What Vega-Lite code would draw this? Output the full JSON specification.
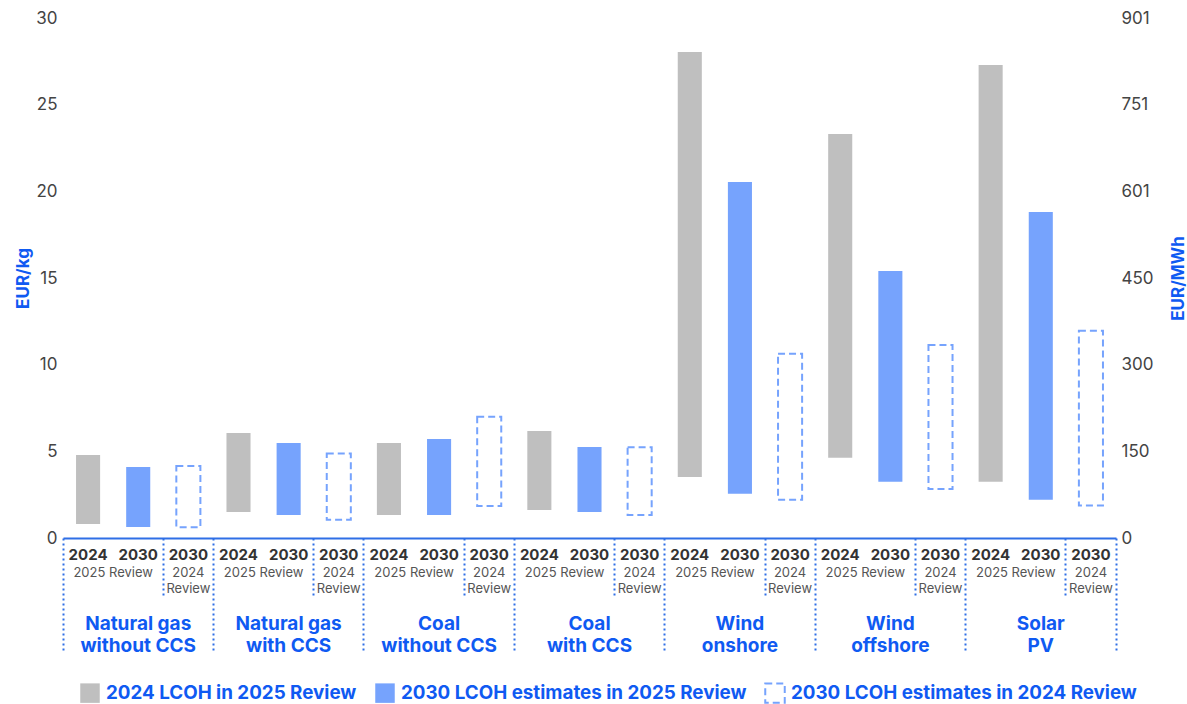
{
  "$schema": "https://vega.github.io/schema/vega-lite/v6.json",
  "width": 1053,
  "height": 520,
  "autosize": {"type": "none"},
  "padding": {"left": 63, "top": 18, "right": 71, "bottom": 166},
  "config": {
    "font": "Inter",
    "view": {"stroke": null},
    "axis": {"grid": false, "labelAngle": 0},
    "scale": {"bandPaddingInner": 0, "bandPaddingOuter": 0}
  },
  "data": {
    "values": [
      {"group": "Natural gas without CCS", "year": "2024", "review": "2025 Review", "series": "2024 LCOH in 2025 Review", "slot": "Natural gas without CCS | 2024 | 2025 Review", "low": 0.81, "high": 4.79},
      {"group": "Natural gas without CCS", "year": "2030", "review": "2025 Review", "series": "2030 LCOH estimates in 2025 Review", "slot": "Natural gas without CCS | 2030 | 2025 Review", "low": 0.63, "high": 4.10},
      {"group": "Natural gas without CCS", "year": "2030", "review": "2024 Review", "series": "2030 LCOH estimates in 2024 Review", "slot": "Natural gas without CCS | 2030 | 2024 Review", "low": 0.62, "high": 4.15},
      {"group": "Natural gas with CCS", "year": "2024", "review": "2025 Review", "series": "2024 LCOH in 2025 Review", "slot": "Natural gas with CCS | 2024 | 2025 Review", "low": 1.50, "high": 6.06},
      {"group": "Natural gas with CCS", "year": "2030", "review": "2025 Review", "series": "2030 LCOH estimates in 2025 Review", "slot": "Natural gas with CCS | 2030 | 2025 Review", "low": 1.33, "high": 5.48},
      {"group": "Natural gas with CCS", "year": "2030", "review": "2024 Review", "series": "2030 LCOH estimates in 2024 Review", "slot": "Natural gas with CCS | 2030 | 2024 Review", "low": 1.06, "high": 4.88},
      {"group": "Coal without CCS", "year": "2024", "review": "2025 Review", "series": "2024 LCOH in 2025 Review", "slot": "Coal without CCS | 2024 | 2025 Review", "low": 1.33, "high": 5.48},
      {"group": "Coal without CCS", "year": "2030", "review": "2025 Review", "series": "2030 LCOH estimates in 2025 Review", "slot": "Coal without CCS | 2030 | 2025 Review", "low": 1.33, "high": 5.71},
      {"group": "Coal without CCS", "year": "2030", "review": "2024 Review", "series": "2030 LCOH estimates in 2024 Review", "slot": "Coal without CCS | 2030 | 2024 Review", "low": 1.85, "high": 7.00},
      {"group": "Coal with CCS", "year": "2024", "review": "2025 Review", "series": "2024 LCOH in 2025 Review", "slot": "Coal with CCS | 2024 | 2025 Review", "low": 1.62, "high": 6.17},
      {"group": "Coal with CCS", "year": "2030", "review": "2025 Review", "series": "2030 LCOH estimates in 2025 Review", "slot": "Coal with CCS | 2030 | 2025 Review", "low": 1.50, "high": 5.25},
      {"group": "Coal with CCS", "year": "2030", "review": "2024 Review", "series": "2030 LCOH estimates in 2024 Review", "slot": "Coal with CCS | 2030 | 2024 Review", "low": 1.33, "high": 5.23},
      {"group": "Wind onshore", "year": "2024", "review": "2025 Review", "series": "2024 LCOH in 2025 Review", "slot": "Wind onshore | 2024 | 2025 Review", "low": 3.52, "high": 28.04},
      {"group": "Wind onshore", "year": "2030", "review": "2025 Review", "series": "2030 LCOH estimates in 2025 Review", "slot": "Wind onshore | 2030 | 2025 Review", "low": 2.56, "high": 20.54},
      {"group": "Wind onshore", "year": "2030", "review": "2024 Review", "series": "2030 LCOH estimates in 2024 Review", "slot": "Wind onshore | 2030 | 2024 Review", "low": 2.21, "high": 10.63},
      {"group": "Wind offshore", "year": "2024", "review": "2025 Review", "series": "2024 LCOH in 2025 Review", "slot": "Wind offshore | 2024 | 2025 Review", "low": 4.63, "high": 23.31},
      {"group": "Wind offshore", "year": "2030", "review": "2025 Review", "series": "2030 LCOH estimates in 2025 Review", "slot": "Wind offshore | 2030 | 2025 Review", "low": 3.25, "high": 15.40},
      {"group": "Wind offshore", "year": "2030", "review": "2024 Review", "series": "2030 LCOH estimates in 2024 Review", "slot": "Wind offshore | 2030 | 2024 Review", "low": 2.83, "high": 11.13},
      {"group": "Solar PV", "year": "2024", "review": "2025 Review", "series": "2024 LCOH in 2025 Review", "slot": "Solar PV | 2024 | 2025 Review", "low": 3.25, "high": 27.29},
      {"group": "Solar PV", "year": "2030", "review": "2025 Review", "series": "2030 LCOH estimates in 2025 Review", "slot": "Solar PV | 2030 | 2025 Review", "low": 2.21, "high": 18.81},
      {"group": "Solar PV", "year": "2030", "review": "2024 Review", "series": "2030 LCOH estimates in 2024 Review", "slot": "Solar PV | 2030 | 2024 Review", "low": 1.87, "high": 11.96}
    ]
  },
  "layer": [
    {
      "mark": {"type": "bar", "strokeWidth": 2, "width": {"band": 0.48}},
      "encoding": {
        "x": {
          "field": "slot", "type": "nominal", "sort": null,
          "scale": {"paddingInner": 0, "paddingOuter": 0},
          "axis": {
            "orient": "bottom", "title": null, "ticks": false,
            "labelExpr": "split(datum.label, ' | ')[1]",
            "labelFontSize": 15, "labelFontWeight": "bold", "labelColor": "#333333",
            "labelPadding": 9, "labelOverlap": false, "labelBound": false,
            "domainColor": "#2f6fe6", "domainWidth": 2
          }
        },
        "y": {
          "field": "high", "type": "quantitative",
          "scale": {"domain": [0, 30], "nice": false},
          "axis": {
            "orient": "left", "title": "EUR/kg", "values": [0, 5, 10, 15, 20, 25, 30],
            "domain": false, "ticks": false,
            "labelFontSize": 17, "labelColor": "#444444", "labelPadding": 6,
            "titleColor": "#0f5af2", "titleFontSize": 17, "titleFontWeight": "bold", "titlePadding": 3
          }
        },
        "y2": {"field": "low"},
        "fill": {
          "field": "series", "type": "nominal",
          "scale": {
            "domain": ["2024 LCOH in 2025 Review", "2030 LCOH estimates in 2025 Review", "2030 LCOH estimates in 2024 Review"],
            "range": ["#bfbfbf", "#76a3fd", "transparent"]
          },
          "legend": {
            "title": null, "orient": "none", "legendX": 16, "legendY": 664, "direction": "horizontal",
            "symbolType": "square", "symbolSize": 380, "symbolStrokeWidth": 2,
            "labelFontSize": 18.8, "labelFontWeight": "bold", "labelColor": "#0f5af2", "labelLimit": 500,
            "labelOffset": 5, "columnPadding": 14,
            "symbols": {"update": {"strokeDash": {"value": [10, 10]}, "strokeDashOffset": {"value": 5}}}
          }
        },
        "stroke": {
          "field": "series", "type": "nominal",
          "scale": {
            "domain": ["2024 LCOH in 2025 Review", "2030 LCOH estimates in 2025 Review", "2030 LCOH estimates in 2024 Review"],
            "range": ["transparent", "transparent", "#76a3fd"]
          },
          "legend": {
            "title": null, "orient": "none", "legendX": 16, "legendY": 664, "direction": "horizontal",
            "symbolType": "square", "symbolSize": 380, "symbolStrokeWidth": 2,
            "labelFontSize": 18.8, "labelFontWeight": "bold", "labelColor": "#0f5af2", "labelLimit": 500,
            "labelOffset": 5, "columnPadding": 14,
            "symbols": {"update": {"strokeDash": {"value": [10, 10]}, "strokeDashOffset": {"value": 5}}}
          }
        },
        "strokeDash": {
          "field": "series", "type": "nominal",
          "scale": {
            "domain": ["2024 LCOH in 2025 Review", "2030 LCOH estimates in 2025 Review", "2030 LCOH estimates in 2024 Review"],
            "range": [[1, 0], [1, 0], [7, 4]]
          },
          "legend": {
            "title": null, "orient": "none", "legendX": 16, "legendY": 664, "direction": "horizontal",
            "symbolType": "square", "symbolSize": 380, "symbolStrokeWidth": 2,
            "labelFontSize": 18.8, "labelFontWeight": "bold", "labelColor": "#0f5af2", "labelLimit": 500,
            "labelOffset": 5, "columnPadding": 14,
            "symbols": {"update": {"strokeDash": {"value": [10, 10]}, "strokeDashOffset": {"value": 5}}}
          }
        }
      }
    },
    {
      "mark": {"type": "point", "opacity": 0},
      "encoding": {
        "x": {
          "field": "slot", "type": "nominal", "sort": null,
          "axis": {
            "orient": "bottom", "title": null, "domain": false, "ticks": false,
            "values": ["Natural gas without CCS | 2030 | 2025 Review", "Natural gas with CCS | 2030 | 2025 Review", "Coal without CCS | 2030 | 2025 Review", "Coal with CCS | 2030 | 2025 Review", "Wind onshore | 2030 | 2025 Review", "Wind offshore | 2030 | 2025 Review", "Solar PV | 2030 | 2025 Review"],
            "labelExpr": "split(datum.label, ' | ')[2]",
            "labelOffset": -25, "labelFontSize": 13, "labelColor": "#555555",
            "labelPadding": 28, "labelOverlap": false, "labelBound": false
          }
        },
        "y": {
          "datum": 0, "type": "quantitative",
          "scale": {"domain": [0, 900.9], "nice": false},
          "axis": {
            "orient": "right", "title": "EUR/MWh",
            "values": [0, 150.15, 300.3, 450.45, 600.6, 750.75, 900.9], "format": ".0f",
            "domain": false, "ticks": false,
            "labelFontSize": 17, "labelColor": "#444444", "labelPadding": 5,
            "titleAngle": 270, "titleBaseline": "top", "titleColor": "#0f5af2", "titleFontSize": 17, "titleFontWeight": "bold", "titlePadding": 17
          }
        }
      }
    },
    {
      "mark": {"type": "point", "opacity": 0},
      "encoding": {
        "x": {
          "field": "slot", "type": "nominal", "sort": null,
          "axis": {
            "orient": "bottom", "title": null, "domain": false, "ticks": false,
            "values": ["Natural gas without CCS | 2030 | 2024 Review", "Natural gas with CCS | 2030 | 2024 Review", "Coal without CCS | 2030 | 2024 Review", "Coal with CCS | 2030 | 2024 Review", "Wind onshore | 2030 | 2024 Review", "Wind offshore | 2030 | 2024 Review", "Solar PV | 2030 | 2024 Review"],
            "labelExpr": "split(split(datum.label, ' | ')[2], ' ')",
            "labelFontSize": 13, "labelColor": "#555555", "labelLineHeight": 16,
            "labelPadding": 28, "labelOverlap": false, "labelBound": false
          }
        }
      }
    },
    {
      "mark": {"type": "point", "opacity": 0},
      "encoding": {
        "x": {
          "field": "slot", "type": "nominal", "sort": null,
          "axis": {
            "orient": "bottom", "title": null, "domain": false, "ticks": false,
            "values": ["Natural gas without CCS | 2030 | 2025 Review", "Natural gas with CCS | 2030 | 2025 Review", "Coal without CCS | 2030 | 2025 Review", "Coal with CCS | 2030 | 2025 Review", "Wind onshore | 2030 | 2025 Review", "Wind offshore | 2030 | 2025 Review", "Solar PV | 2030 | 2025 Review"],
            "labelExpr": "indexof(datum.label, ' with') > 0 ? [substring(datum.label, 0, indexof(datum.label, ' with')), substring(datum.label, indexof(datum.label, ' with') + 1, indexof(datum.label, ' | '))] : [substring(datum.label, 0, indexof(datum.label, ' ')), substring(datum.label, indexof(datum.label, ' ') + 1, indexof(datum.label, ' | '))]",
            "labelFontSize": 19, "labelFontWeight": "bold", "labelColor": "#0f5af2", "labelLineHeight": 22,
            "labelPadding": 76, "labelOverlap": false, "labelBound": false, "labelLimit": 300
          }
        }
      }
    },
    {
      "mark": {"type": "point", "opacity": 0},
      "encoding": {
        "x": {
          "field": "slot", "type": "nominal", "sort": null,
          "axis": {
            "orient": "bottom", "title": null, "domain": false, "labels": false,
            "values": ["Natural gas without CCS | 2030 | 2024 Review", "Natural gas with CCS | 2030 | 2024 Review", "Coal without CCS | 2030 | 2024 Review", "Coal with CCS | 2030 | 2024 Review", "Wind onshore | 2030 | 2024 Review", "Wind offshore | 2030 | 2024 Review", "Solar PV | 2030 | 2024 Review"],
            "bandPosition": 0, "ticks": true, "tickSize": 58, "tickDash": [2, 3], "tickWidth": 2, "tickColor": "#2f6fe6"
          }
        }
      }
    },
    {
      "mark": {"type": "point", "opacity": 0},
      "encoding": {
        "x": {
          "field": "slot", "type": "nominal", "sort": null,
          "axis": {
            "orient": "bottom", "title": null, "domain": false, "labels": false,
            "values": ["Natural gas without CCS | 2024 | 2025 Review", "Natural gas with CCS | 2024 | 2025 Review", "Coal without CCS | 2024 | 2025 Review", "Coal with CCS | 2024 | 2025 Review", "Wind onshore | 2024 | 2025 Review", "Wind offshore | 2024 | 2025 Review", "Solar PV | 2024 | 2025 Review"],
            "bandPosition": 0, "ticks": true, "tickSize": 114, "tickDash": [2, 3], "tickWidth": 2, "tickColor": "#2f6fe6"
          }
        }
      }
    },
    {
      "mark": {"type": "point", "opacity": 0},
      "encoding": {
        "x": {
          "field": "slot", "type": "nominal", "sort": null,
          "axis": {
            "orient": "bottom", "title": null, "domain": false, "labels": false,
            "values": ["Solar PV | 2030 | 2024 Review"],
            "bandPosition": 1, "ticks": true, "tickSize": 114, "tickDash": [2, 3], "tickWidth": 2, "tickColor": "#2f6fe6"
          }
        }
      }
    }
  ],
  "resolve": {"scale": {"y": "independent"}, "axis": {"x": "independent", "y": "independent"}}
}
